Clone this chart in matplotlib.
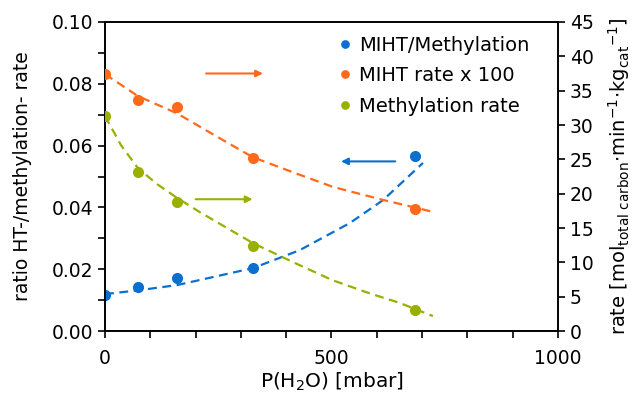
import numpy as np
import matplotlib
matplotlib.use("Agg")
import matplotlib.pyplot as plt
from matplotlib.ticker import MultipleLocator

plt.rcParams["font.family"] = ["DejaVu Sans"]
plt.rcParams["mathtext.default"] = "regular"

# data
p_h2o = [0, 73, 159, 327, 684]
ratio = [0.0117, 0.0142, 0.0171, 0.0204, 0.0566]
miht_rate = [37.4, 33.6, 32.6, 25.2, 17.8]
meth_rate = [31.3, 23.2, 18.8, 12.4, 3.1]

# dashed trendlines
trend_ratio_x = [0, 73, 159, 327, 430, 541, 614, 702]
trend_ratio_y = [0.0120, 0.0132, 0.0149, 0.0204, 0.0262, 0.0350, 0.0424, 0.0544]
trend_miht_x = [0, 73, 159, 250, 327, 420, 503, 614, 728]
trend_miht_y = [37.4, 34.2, 31.7, 28.2, 25.3, 23.0, 21.0, 19.1, 17.3]
trend_meth_x = [0, 36, 73, 115, 159, 210, 327, 420, 503, 580, 651, 724]
trend_meth_y = [31.3, 27.0, 23.7, 21.4, 19.4, 17.3, 12.8, 9.9, 7.4, 5.6, 4.1, 2.2]

blue = "#0a6fcf"
orange = "#ff6a1a"
green = "#99b000"

fig = plt.figure(figsize=(6.34, 3.99), dpi=100)
ax = fig.add_axes([0.1656, 0.170, 0.7144, 0.775])
ax2 = ax.twinx()

dash = dict(lw=1.6, dashes=(4, 2.5), solid_joinstyle="round")
ax.plot(trend_ratio_x, trend_ratio_y, "--", color=blue, **dash)
ax2.plot(trend_miht_x, trend_miht_y, "--", color=orange, **dash)
ax2.plot(trend_meth_x, trend_meth_y, "--", color=green, **dash)

ax.plot(p_h2o, ratio, "o", color=blue, ms=7, label="MIHT/Methylation", zorder=3)
ax2.plot(p_h2o, miht_rate, "o", color=orange, ms=7, label="MIHT rate x 100", zorder=3)
ax2.plot(p_h2o, meth_rate, "o", color=green, ms=7, label="Methylation rate", zorder=3)

ax.set_xlim(0, 1000)
ax.set_ylim(0, 0.10)
ax2.set_ylim(0, 45)
ax.xaxis.set_major_locator(MultipleLocator(500))
ax.xaxis.set_minor_locator(MultipleLocator(100))
ax.yaxis.set_major_locator(MultipleLocator(0.02))
ax.yaxis.set_minor_locator(MultipleLocator(0.01))
ax2.yaxis.set_major_locator(MultipleLocator(5))
ax.yaxis.set_major_formatter(matplotlib.ticker.FormatStrFormatter("%.2f"))

for a in (ax, ax2):
    a.tick_params(which="both", direction="out", labelsize=13.5, width=1.2)
    a.tick_params(which="major", length=5)
    a.tick_params(which="minor", length=5)
    for s in a.spines.values():
        s.set_linewidth(1.2)
ax.tick_params(axis="x", pad=8)

ax.set_xlabel("P(H$_2$O) [mbar]", fontsize=14.5, labelpad=2)
ax.set_ylabel("ratio HT-/methylation- rate", fontsize=13.5, labelpad=14)
ax2.set_ylabel("rate [mol$_{total\\ carbon}$$\\cdot$min$^{-1}$$\\cdot$kg$_{cat}$$^{-1}$]",
               fontsize=14, labelpad=9)

# arrows pointing to the relevant axis
ax2.annotate("", xy=(355, 37.5), xytext=(217, 37.5),
             arrowprops=dict(arrowstyle="-|>", color=orange, lw=1.5))
ax2.annotate("", xy=(332, 19.2), xytext=(194, 19.2),
             arrowprops=dict(arrowstyle="-|>", color=green, lw=1.5))
ax.annotate("", xy=(515, 0.0549), xytext=(647, 0.0549),
            arrowprops=dict(arrowstyle="-|>", color=blue, lw=1.5))

h1, l1 = ax.get_legend_handles_labels()
h2, l2 = ax2.get_legend_handles_labels()
ax2.legend(h1 + h2, l1 + l2, loc="upper right", bbox_to_anchor=(0.968, 1.0),
           frameon=False, fontsize=14, handletextpad=0.35, handlelength=0.8,
           labelspacing=0.6, borderaxespad=0.3, markerscale=0.75)

fig.savefig("out.png", dpi=100)
